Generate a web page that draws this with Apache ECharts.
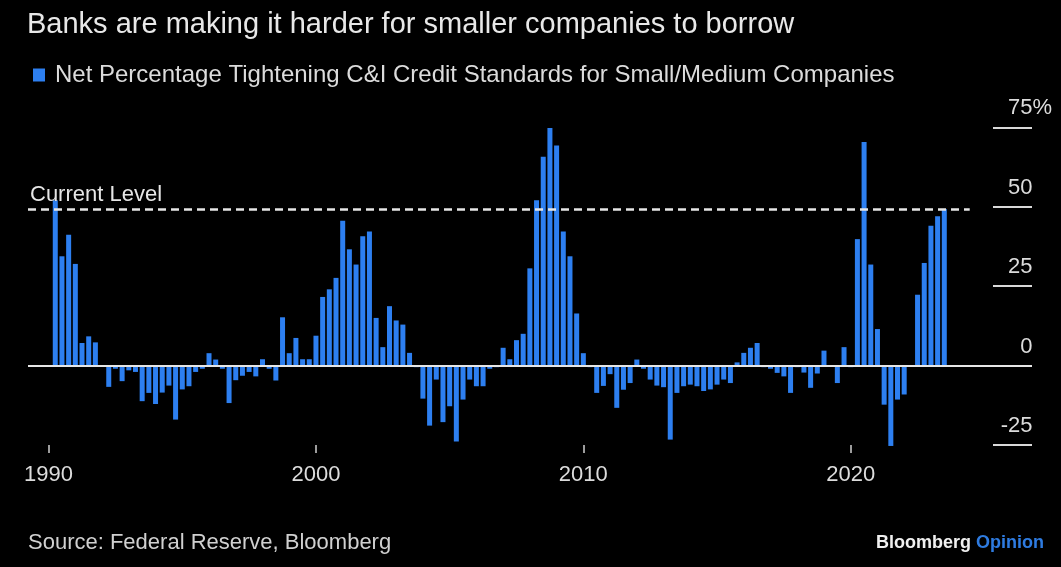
<!DOCTYPE html>
<html>
<head>
<meta charset="utf-8">
<script src="https://cdn.jsdelivr.net/npm/echarts@6/dist/echarts.min.js"></script>
<style>
  html, body { margin: 0; padding: 0; background: #000; }
  #chart { width: 1061px; height: 567px; }
</style>
</head>
<body>
<div id="chart"></div>
<script>
// Net percentage of banks tightening C&I credit standards for small/medium firms (quarterly, %)
const START_YEAR = 1990;
const START_QUARTER = 2;
const tightening = [
  52, 34.4, 41.2,                 // 1990 Q2-Q4
  32, 7.1, 9.2, 7.3,              // 1991
  0, -6.7, -1, -4.9,              // 1992
  -1.5, -2, -11.2, -8.6,          // 1993
  -12.1, -8.5, -6.3, -17,         // 1994
  -7.5, -6.5, -2, -1,             // 1995
  3.9, 1.9, -1, -11.8,            // 1996
  -4.6, -3.2, -2, -3.4,           // 1997
  2, -1, -4.7, 15.2,              // 1998
  3.9, 8.7, 2, 2,                 // 1999
  9.4, 21.6, 24, 27.6,            // 2000
  45.6, 36.6, 31.8, 40.7,         // 2001
  42.2, 15, 5.8, 18.7,            // 2002
  14.2, 12.9, 4, -0.5,            // 2003
  -10.4, -18.9, -4.4, -17.8,      // 2004
  -12.8, -23.9, -10.7, -4.4,      // 2005
  -6.5, -6.5, -1, -0.5,           // 2006
  5.6, 2, 8, 10,                  // 2007
  30.6, 52, 65.7, 74.8,           // 2008
  69.3, 42.2, 34.4, 16.4,         // 2009
  3.9, -0.5, -8.6, -6.4,          // 2010
  -2.7, -13.3, -7.6, -5.5,        // 2011
  1.9, -1, -4.4, -6.3,            // 2012
  -6.8, -23.3, -8.6, -6.5,        // 2013
  -6, -6.5, -8, -7.5,             // 2014
  -6, -4.4, -5.5, 1,              // 2015
  4, 5.6, 7.1, -0.5,              // 2016
  -1, -2.3, -3.4, -8.6,           // 2017
  -0.5, -2.2, -7, -2.5,           // 2018
  4.7, 0, -5.5, 5.8,              // 2019
  -0.5, 39.8, 70.4, 31.8,         // 2020
  11.5, -12.3, -25.3, -10.7,      // 2021
  -9.1, 0, 22.3, 32.3,            // 2022
  44, 47, 49.3                    // 2023 Q1-Q3
];
const yearTicks = [1990, 2000, 2010, 2020];
const valueTicks = [-25, 0, 25, 50, 75];

// quarter start expressed as a fractional year
const quarterDates = tightening.map((_, i) => {
  const q = START_QUARTER - 1 + i;
  return START_YEAR + Math.floor(q / 4) + (q % 4) / 4;
});
const seriesData = quarterDates.map((d, i) => [d, tightening[i]]);
const currentLevel = tightening[tightening.length - 1];
const lastDate = quarterDates[quarterDates.length - 1];

const X_MIN = 1989.23, X_MAX = 2026.78;
const FONT = 'Liberation Sans, Arial, sans-serif';
const BLUE = '#2d7ff0';

const chart = echarts.init(document.getElementById('chart'), null, { renderer: 'canvas' });
chart.setOption({
  backgroundColor: '#000',
  animation: false,
  textStyle: { fontFamily: FONT },
  title: [
    {
      text: 'Banks are making it harder for smaller companies to borrow',
      left: 27, top: 10, padding: 0,
      textStyle: { color: '#e8e8e8', fontSize: 29, fontWeight: 'normal', fontFamily: FONT }
    },
    {
      text: 'Source: Federal Reserve, Bloomberg',
      left: 28, top: 532, padding: 0,
      textStyle: { color: '#d0d0d0', fontSize: 22, fontWeight: 'normal', fontFamily: FONT }
    },
    {
      text: '{a|Bloomberg} {b|Opinion}',
      right: 17, top: 534, padding: 0,
      textStyle: {
        fontFamily: FONT,
        rich: {
          a: { color: '#f0f0f0', fontSize: 18, fontWeight: 'bold', fontFamily: FONT },
          b: { color: '#2e7be0', fontSize: 18, fontWeight: 'bold', fontFamily: FONT }
        }
      }
    }
  ],
  legend: {
    left: 33, top: 63, padding: 0,
    icon: 'rect',
    itemWidth: 12, itemHeight: 13,
    textStyle: { color: '#dcdcdc', fontSize: 24, fontFamily: FONT, padding: [0, 0, 0, 5] },
    data: ['Net Percentage Tightening C&I Credit Standards for Small/Medium Companies']
  },
  grid: { left: 28, right: 29, top: 127.3, bottom: 122, containLabel: false },
  xAxis: {
    type: 'value',
    min: X_MIN, max: X_MAX,
    position: 'bottom',
    axisLine: { show: false, onZero: false },
    splitLine: { show: false },
    axisTick: {
      show: true, customValues: yearTicks, length: 8,
      lineStyle: { color: '#cfcfcf', width: 1.5 }
    },
    axisLabel: {
      customValues: yearTicks, color: '#dcdcdc', fontSize: 22, margin: 19,
      fontFamily: FONT,
      formatter: v => String(Math.round(v))
    }
  },
  yAxis: {
    type: 'value',
    position: 'right',
    min: -25, max: 75,
    splitLine: { show: false },
    axisLine: { show: false },
    axisTick: {
      show: true, inside: true, length: 39, customValues: valueTicks,
      lineStyle: { color: '#d8d8d8', width: 2 }
    },
    axisLabel: {
      customValues: valueTicks,
      inside: false, margin: 20, align: 'right', verticalAlign: 'bottom',
      padding: [0, 0, 8, 0],
      fontSize: 22, color: '#dcdcdc', fontFamily: FONT,
      formatter: v => v === 75 ? '{n|75}{p|%}' : '{n|' + v + '}{h|%}',
      rich: {
        n: { fontSize: 22, color: '#dcdcdc', fontFamily: FONT },
        p: { fontSize: 22, color: '#dcdcdc', fontFamily: FONT },
        h: { fontSize: 22, color: 'rgba(0,0,0,0)', fontFamily: FONT }
      }
    }
  },
  series: [{
    name: 'Net Percentage Tightening C&I Credit Standards for Small/Medium Companies',
    type: 'bar',
    data: seriesData,
    barWidth: 5,
    clip: false,
    itemStyle: { color: BLUE },
    markLine: {
      silent: true,
      symbol: 'none',
      data: [
        [
          { coord: [X_MIN, 0], lineStyle: { color: '#e6e6e6', width: 2, type: 'solid' }, label: { show: false } },
          { coord: [X_MAX, 0] }
        ],
        [
          {
            coord: [X_MIN, currentLevel],
            lineStyle: { color: '#e6e6e6', width: 2.5, type: [8, 5] },
            label: {
              show: true, position: 'insideStartTop', formatter: 'Current Level',
              color: '#e6e6e6', fontSize: 22, fontFamily: FONT, distance: [2, 3]
            }
          },
          { coord: [lastDate + 0.95, currentLevel] }
        ]
      ]
    }
  }]
});
</script>
</body>
</html>
